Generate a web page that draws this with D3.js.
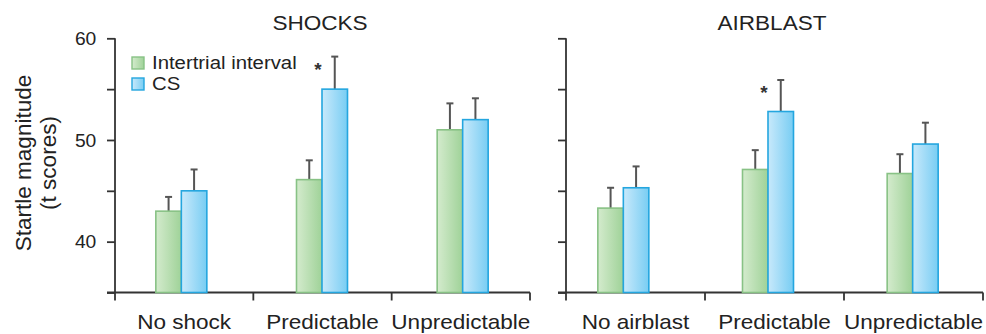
<!DOCTYPE html>
<html>
<head>
<meta charset="utf-8">
<script src="https://cdn.jsdelivr.net/npm/d3@7"></script>
<style>
  html, body { margin: 0; padding: 0; background: #fff; }
  svg { display: block; font-family: "Liberation Sans", Arial, Helvetica, sans-serif; }
</style>
</head>
<body>
<svg id="chart" width="986" height="334"></svg>
<script>
// Startle magnitude (t scores), mean and top of error bar per condition
const seriesNames = ["Intertrial interval", "CS"];

const shockCategories = ["No shock", "Predictable", "Unpredictable"];
const shockITI      = [43.0, 46.1, 51.0];
const shockITIErr   = [44.4, 48.0, 53.6];
const shockCS       = [45.0, 55.0, 52.0];
const shockCSErr    = [47.1, 58.2, 54.1];
const shockStars    = [false, true, false];

const airCategories = ["No airblast", "Predictable", "Unpredictable"];
const airITI        = [43.3, 47.1, 46.7];
const airITIErr     = [45.3, 49.0, 48.6];
const airCS         = [45.3, 52.8, 49.6];
const airCSErr      = [47.4, 55.9, 51.7];
const airStars      = [false, true, false];

const yDomain      = [35, 60];
const yTicks       = [35, 40, 45, 50, 55, 60];
const yTickLabels  = [40, 50, 60];

const svg = d3.select("#chart");

const defs = svg.append("defs");
function grad(id, from, to) {
  const g = defs.append("linearGradient").attr("id", id)
    .attr("x1", "0%").attr("x2", "100%").attr("y1", "0%").attr("y2", "0%");
  g.append("stop").attr("offset", "0%").attr("stop-color", from);
  g.append("stop").attr("offset", "100%").attr("stop-color", to);
}
grad("gGreen", "#d4ebcd", "#9fd298");
grad("gBlue", "#c8e9fb", "#78cdf3");
const fills   = ["url(#gGreen)", "url(#gBlue)"];
const strokes = ["#88c285", "#24a6df"];

const y = d3.scaleLinear().domain(yDomain).range([292.5, 38.3]);
const xs = 1.1; // horizontal text stretch

function panel(opts) {
  const g = svg.append("g");
  const x = d3.scaleBand().domain(opts.categories).range(opts.axisRange);
  const slots = d3.scaleBand().domain(opts.categories).range(opts.barRange);
  const barW = 25.5;
  const inner = d3.scaleBand().domain(seriesNames).range([-barW, barW]);

  // y axis
  const yAxis = d3.axisLeft(y).tickValues(yTicks).tickSize(8).tickPadding(9)
    .tickFormat(d => opts.labels && yTickLabels.includes(d) ? d : "");
  const ya = g.append("g").attr("transform", `translate(${opts.axisRange[0]},0)`).call(yAxis);
  ya.select(".domain").attr("d", `M0,${y(yDomain[1])}V${y(yDomain[0])}`);
  ya.selectAll("line, .domain").attr("stroke", "#333").attr("stroke-width", 1.8);
  ya.selectAll("text").attr("font-size", 17.5).attr("fill", "#222")
    .attr("transform", `scale(${xs},1)`).attr("dy", "0.36em");

  // x axis: baseline with ticks at the category boundaries
  const xa = g.append("g").attr("transform", `translate(0,${y(yDomain[0])})`);
  const bounds = opts.categories.map(c => x(c)).concat([opts.axisRange[1]]);
  xa.append("line").attr("x1", opts.axisRange[0] - 8).attr("x2", opts.axisRange[1])
    .attr("stroke", "#333").attr("stroke-width", 1.8);
  xa.selectAll("line.tk").data(bounds).join("line").attr("class", "tk")
    .attr("x1", d => d).attr("x2", d => d).attr("y1", 0).attr("y2", 8)
    .attr("stroke", "#333").attr("stroke-width", 1.8);
  xa.selectAll("text").data(opts.categories).join("text")
    .attr("transform", d => `translate(${x(d) + x.bandwidth() / 2},36) scale(${xs},1)`)
    .attr("text-anchor", "middle").attr("font-size", 20.5).attr("fill", "#222")
    .text(d => d);

  // bars
  const rows = opts.categories.map((c, i) => ({
    c, vals: [opts.iti[i], opts.cs[i]], errs: [opts.itiErr[i], opts.csErr[i]], star: opts.stars[i]
  }));
  const grp = g.selectAll("g.grp").data(rows).join("g").attr("class", "grp")
    .attr("transform", d => `translate(${slots(d.c) + slots.bandwidth() / 2},0)`);
  seriesNames.forEach((s, k) => {
    grp.append("line")
      .attr("x1", inner(s) + barW / 2).attr("x2", inner(s) + barW / 2)
      .attr("y1", d => y(d.vals[k])).attr("y2", d => y(d.errs[k]))
      .attr("stroke", "#555").attr("stroke-width", 2);
    grp.append("line")
      .attr("x1", inner(s) + barW / 2 - 3.5).attr("x2", inner(s) + barW / 2 + 3.5)
      .attr("y1", d => y(d.errs[k])).attr("y2", d => y(d.errs[k]))
      .attr("stroke", "#555").attr("stroke-width", 2);
    grp.append("rect")
      .attr("x", inner(s)).attr("width", inner.bandwidth())
      .attr("y", d => y(d.vals[k])).attr("height", d => y(yDomain[0]) - y(d.vals[k]))
      .attr("fill", fills[k]).attr("stroke", strokes[k]).attr("stroke-width", 1.6);
  });
  grp.filter(d => d.star).append("text")
    .attr("x", inner(seriesNames[0]) + barW - 4)
    .attr("y", d => y(d.errs[1]) + 19)
    .attr("text-anchor", "middle").attr("font-size", 19).attr("font-weight", "bold")
    .attr("fill", "#333").text("*");

  // title
  g.append("text")
    .attr("transform", `translate(${opts.titleX},30) scale(${xs},1)`)
    .attr("text-anchor", "middle").attr("font-size", 20.5).attr("fill", "#222")
    .text(opts.title);
  return g;
}

panel({
  title: "SHOCKS", titleX: 320, categories: shockCategories,
  iti: shockITI, itiErr: shockITIErr, cs: shockCS, csErr: shockCSErr, stars: shockStars,
  axisRange: [115, 530], barRange: [111, 533], labels: true
});
panel({
  title: "AIRBLAST", titleX: 772, categories: airCategories,
  iti: airITI, itiErr: airITIErr, cs: airCS, csErr: airCSErr, stars: airStars,
  axisRange: [566, 983], barRange: [551, 985], labels: false
});

// legend
const leg = svg.append("g").attr("transform", "translate(132,57)");
seriesNames.forEach((s, k) => {
  const r = leg.append("g").attr("transform", `translate(0,${k * 21})`);
  r.append("rect").attr("width", 12).attr("height", 12)
    .attr("fill", fills[k]).attr("stroke", strokes[k]).attr("stroke-width", 1.4);
  r.append("text").attr("transform", `translate(20,11.5) scale(${xs},1)`)
    .attr("font-size", 18.5).attr("fill", "#222").text(s);
});

// y axis title
const yl = svg.append("text").attr("text-anchor", "middle").attr("font-size", 22.5).attr("fill", "#222")
  .attr("transform", "translate(0,163) rotate(-90)");
yl.append("tspan").attr("x", 0).attr("y", 31).text("Startle magnitude");
yl.append("tspan").attr("x", 0).attr("y", 56).text("(t scores)");
</script>
</body>
</html>
